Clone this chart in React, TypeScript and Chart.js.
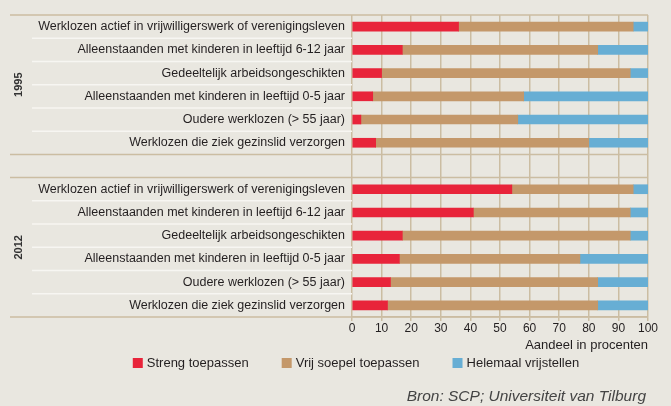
import React, { useEffect, useRef } from 'react';
import { Chart, registerables } from 'chart.js';
Chart.register(...registerables);

const categories = [
  'Werklozen actief in vrijwilligerswerk of verenigingsleven',
  'Alleenstaanden met kinderen in leeftijd 6-12 jaar',
  'Gedeeltelijk arbeidsongeschikten',
  'Alleenstaanden met kinderen in leeftijd 0-5 jaar',
  'Oudere werklozen (> 55 jaar)',
  'Werklozen die ziek gezinslid verzorgen',
];
const groups = ['1995', '2012'];
const seriesNames = ['Streng toepassen', 'Vrij soepel toepassen', 'Helemaal vrijstellen'];

const streng1995 = [36, 17, 10, 7, 3, 8];
const soepel1995 = [59, 66, 84, 51, 53, 72];
const vrij1995 = [5, 17, 6, 42, 44, 20];

const streng2012 = [54, 41, 17, 16, 13, 12];
const soepel2012 = [41, 53, 77, 61, 70, 71];
const vrij2012 = [5, 6, 6, 23, 17, 17];

const axisTitle = 'Aandeel in procenten';
const source = 'Bron: SCP; Universiteit van Tilburg';

const BG = '#e9e7e0';
const COLORS = ['#e8243a', '#c4986a', '#67aed4'];
const GRID = '#cbbda2';
const SEP = '#f7f6f2';
const TEXT = '#231f20';
const FONT = "'Liberation Sans Narrow', 'Liberation Sans', sans-serif";

const join = (a: number[], b: number[]) => [...a, null, ...b];

const bgPlugin = {
  id: 'bg',
  beforeDraw(chart: any) {
    const { ctx, width, height } = chart;
    ctx.save();
    ctx.fillStyle = BG;
    ctx.fillRect(0, 0, width, height);
    ctx.restore();
  },
};

const decoPlugin = {
  id: 'deco',
  beforeDatasetsDraw(chart: any) {
    const { ctx, chartArea } = chart;
    const y = chart.scales.y;
    const p = (i: number) => y.getPixelForValue(i);
    const half = (p(1) - p(0)) / 2;
    ctx.save();
    ctx.strokeStyle = SEP;
    ctx.lineWidth = 1.5;
    const seps = [0, 1, 2, 3, 4, 7, 8, 9, 10, 11];
    seps.forEach((i) => {
      const yy = p(i) + half;
      ctx.beginPath();
      ctx.moveTo(32, yy);
      ctx.lineTo(chartArea.left, yy);
      ctx.stroke();
    });
    ctx.strokeStyle = GRID;
    ctx.lineWidth = 1.5;
    [p(0) - half, p(5) + half, p(7) - half, p(12) + half].forEach((yy) => {
      ctx.beginPath();
      ctx.moveTo(10, yy);
      ctx.lineTo(chartArea.right, yy);
      ctx.stroke();
    });
    ctx.fillStyle = '#333';
    ctx.font = `bold 11px ${FONT}`;
    ctx.textAlign = 'center';
    ctx.textBaseline = 'middle';
    [[0, 5], [7, 12]].forEach(([a, b], gi) => {
      const cy = (p(a) + p(b)) / 2;
      ctx.save();
      ctx.translate(19, cy);
      ctx.rotate(-Math.PI / 2);
      ctx.fillText(groups[gi], 0, 0);
      ctx.restore();
    });
    ctx.restore();
  },
  afterDraw(chart: any) {
    const { ctx } = chart;
    ctx.save();
    ctx.font = `13px ${FONT}`;
    ctx.textBaseline = 'middle';
    ctx.textAlign = 'left';
    const box = 10;
    const gapText = 4;
    const gapItem = 33;
    const ds = chart.data.datasets;
    const widths = ds.map((d: any) => box + gapText + ctx.measureText(d.label).width);
    const total = widths.reduce((s: number, w: number) => s + w, 0) + gapItem * (ds.length - 1);
    let x = 356 - total / 2;
    const ly = 363;
    ds.forEach((d: any, i: number) => {
      ctx.fillStyle = d.backgroundColor;
      ctx.fillRect(x, ly - box / 2, box, box);
      ctx.fillStyle = TEXT;
      ctx.fillText(d.label, x + box + gapText, ly);
      x += widths[i] + gapItem;
    });
    ctx.font = `italic 15.5px ${FONT}`;
    ctx.fillStyle = '#444';
    ctx.textAlign = 'right';
    ctx.textBaseline = 'alphabetic';
    ctx.fillText(source, 646, 401);
    ctx.restore();
  },
};

export default function App() {
  const ref = useRef<HTMLCanvasElement>(null);
  useEffect(() => {
    document.body.style.margin = '0';
    document.body.style.background = BG;
    const labels = [...categories, '', ...categories];
    const chart = new Chart(ref.current as HTMLCanvasElement, {
      type: 'bar',
      data: {
        labels,
        datasets: [
          { label: seriesNames[0], data: join(streng1995, streng2012), backgroundColor: COLORS[0], barThickness: 9 },
          { label: seriesNames[1], data: join(soepel1995, soepel2012), backgroundColor: COLORS[1], barThickness: 9 },
          { label: seriesNames[2], data: join(vrij1995, vrij2012), backgroundColor: COLORS[2], barThickness: 9 },
        ] as any,
      },
      options: {
        indexAxis: 'y',
        responsive: false,
        animation: false,
        layout: { padding: { left: 10, right: 23, top: 15, bottom: 53 } },
        plugins: { legend: { display: false }, tooltip: { enabled: false } },
        scales: {
          x: {
            stacked: true,
            min: 0,
            max: 100,
            ticks: { stepSize: 10, font: { family: FONT, size: 12 }, color: TEXT, padding: 0, maxRotation: 0 },
            grid: { color: GRID, lineWidth: 1.5, tickLength: 4 },
            border: { color: GRID, width: 1.5 },
            title: {
              display: true,
              text: axisTitle,
              align: 'end',
              color: TEXT,
              font: { family: FONT, size: 13 },
              padding: { top: 0, bottom: 0 },
            },
            afterFit: (s: any) => { s.height = 36; },
          },
          y: {
            stacked: true,
            grid: { display: false, drawTicks: false },
            border: { display: false },
            ticks: { font: { family: FONT, size: 12.5 }, color: TEXT, padding: 7, autoSkip: false },
            afterFit: (s: any) => { s.width = 342; },
          },
        },
      } as any,
      plugins: [bgPlugin, decoPlugin],
    });
    return () => chart.destroy();
  }, []);
  return <canvas ref={ref} width={671} height={406} style={{ display: 'block' }} />;
}
